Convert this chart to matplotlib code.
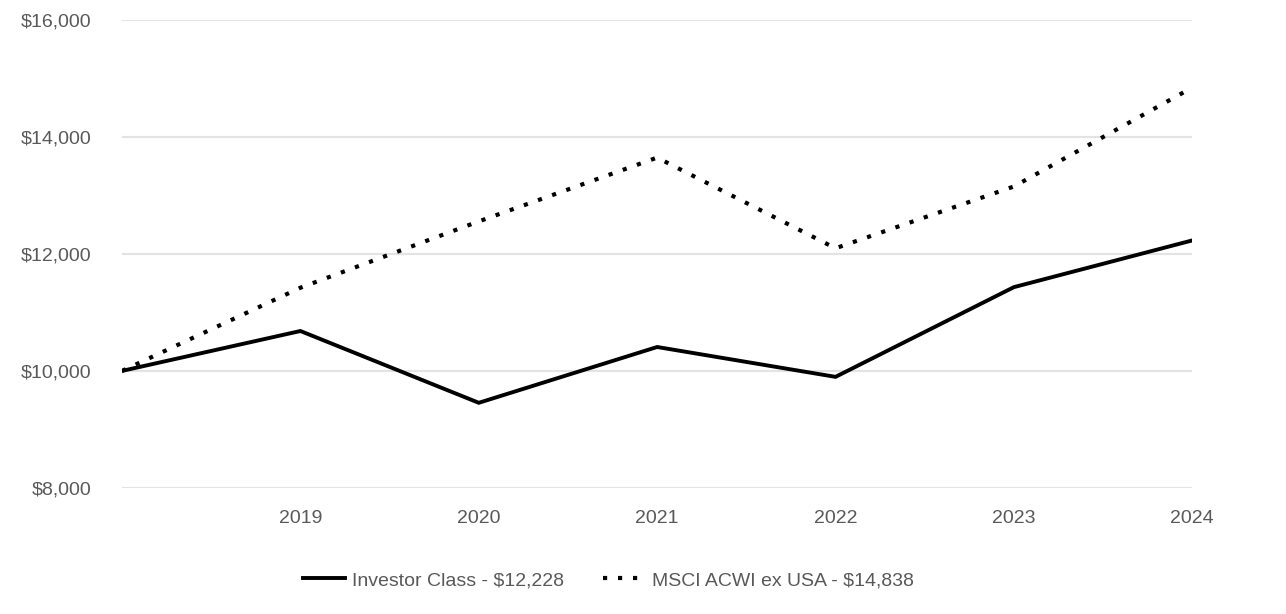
import matplotlib
matplotlib.use("Agg")
import matplotlib.pyplot as plt
from matplotlib import font_manager

years = [2018, 2019, 2020, 2021, 2022, 2023, 2024]
tick_years = [2019, 2020, 2021, 2022, 2023, 2024]
investor = [10000, 10681, 9455, 10408, 9898, 11430, 12228]
msci = [10000, 11420, 12553, 13642, 12094, 13149, 14838]
y_ticks = [8000, 10000, 12000, 14000, 16000]
label_investor = "Investor Class - $12,228"
label_msci = "MSCI ACWI ex USA - $14,838"

names = {f.name for f in font_manager.fontManager.ttflist}
fam = "Liberation Sans Narrow" if "Liberation Sans Narrow" in names else "Liberation Sans"
plt.rcParams['font.family'] = [fam, 'DejaVu Sans']

fig = plt.figure(figsize=(12.86, 6.14), dpi=100)
ax = fig.add_axes([0.0949, 0.2052, 0.9271 - 0.0949, 0.9682 - 0.2052])

ax.plot(years, investor, color="black", lw=2.8, solid_joinstyle="miter", label=label_investor)
ax.plot(years, msci, color="black", lw=3.0, linestyle=(0, (1, 2.6)), dash_capstyle="butt",
        label=label_msci)

ax.set_xlim(2018, 2024)
ax.set_ylim(8000, 16000)
ax.set_yticks(y_ticks)
ax.set_yticklabels([f"${v:,.0f}" for v in y_ticks])
ax.set_xticks(tick_years)
ax.set_xticklabels([str(y) for y in tick_years])
ax.grid(axis="y", color="#e3e3e3", lw=1.5)
ax.set_axisbelow(True)
for s in ax.spines.values():
    s.set_visible(False)
ax.tick_params(axis="both", length=0, labelsize=14, labelcolor="#595959")
ax.tick_params(axis="y", pad=22)
ax.tick_params(axis="x", pad=16)

fig.legend(loc="center", bbox_to_anchor=(0.473, 0.055), ncol=2, frameon=False,
           fontsize=14, labelcolor="#595959", handlelength=2.15, handletextpad=0.36,
           columnspacing=2.0)

fig.savefig("out.png", dpi=100, facecolor="white")
